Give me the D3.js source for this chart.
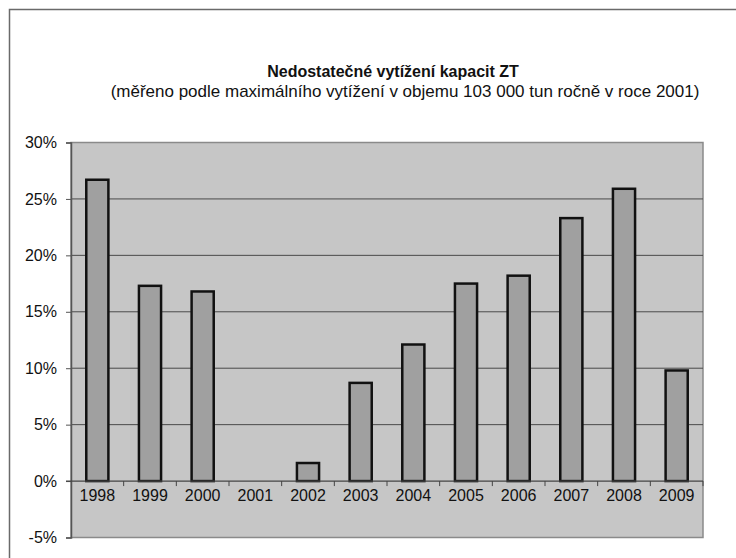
<!DOCTYPE html>
<html>
<head>
<meta charset="utf-8">
<script src="https://cdn.jsdelivr.net/npm/d3@7"></script>
<style>
  body { margin: 0; background: #fff; }
  text { font-family: "Liberation Sans", Arial, sans-serif; fill: #111; }
</style>
</head>
<body>
<svg id="chart" width="736" height="558"></svg>
<script>
const years = ['1998', '1999', '2000', '2001', '2002', '2003', '2004', '2005', '2006', '2007', '2008', '2009']
const values = [0.267, 0.173, 0.168, 0, 0.016, 0.087, 0.121, 0.175, 0.182, 0.233, 0.259, 0.098]
const yTicks = [-0.05, 0, 0.05, 0.1, 0.15, 0.2, 0.25, 0.3]

const svg = d3.select('#chart')

// outer frame (right and bottom are cut off in the picture)
svg.append('path')
  .attr('d', 'M9.5,558 L9.5,9.5 L736,9.5')
  .attr('fill', 'none')
  .attr('stroke', '#6a6a6a')
  .attr('stroke-width', 1.5)

svg.append('text')
  .attr('x', 393).attr('y', 77)
  .attr('text-anchor', 'middle')
  .style('font-size', '16px').style('font-weight', 'bold')
  .text('Nedostatečné vytížení kapacit ZT')
svg.append('text')
  .attr('x', 405).attr('y', 97)
  .attr('text-anchor', 'middle')
  .style('font-size', '17px')
  .text('(měřeno podle maximálního vytížení v objemu 103 000 tun ročně v roce 2001)')

const pl = 71, pr = 703, pt = 142.5, pb = 537.5

const x = d3.scaleBand().domain(years).range([pl, pr]).paddingInner(0.58).paddingOuter(0.29)
const xb = d3.scaleBand().domain(years).range([pl, pr])
const y = d3.scaleLinear().domain([-0.05, 0.3]).range([pb, pt])

// plot background
svg.append('rect')
  .attr('x', pl).attr('y', pt)
  .attr('width', pr - pl).attr('height', pb - pt)
  .attr('fill', '#c6c6c6')
  .attr('stroke', '#8a8a8a')
  .attr('stroke-width', 1.5)

// grid lines
svg.append('g')
  .selectAll('line')
  .data(yTicks.filter(d => d > 0 && d < 0.3))
  .join('line')
  .attr('x1', pl).attr('x2', pr)
  .attr('y1', d => y(d)).attr('y2', d => y(d))
  .attr('stroke', '#4a4a4a')
  .attr('stroke-width', 1)

// y axis
const yAxis = svg.append('g')
  .attr('transform', `translate(${pl},0)`)
  .call(d3.axisLeft(y).tickValues(yTicks).tickFormat(d3.format('.0%')).tickSize(5).tickPadding(9))
yAxis.select('.domain').attr('stroke', '#555').attr('stroke-width', 1.5)
yAxis.selectAll('.tick line').attr('stroke', '#555')
yAxis.selectAll('text').style('font-size', '16px').attr('fill', '#111')
  .text(d => d3.format('.0%')(d).replace('−', '-'))

// bars
svg.append('g')
  .selectAll('rect')
  .data(values)
  .join('rect')
  .attr('x', (d, i) => x(years[i]))
  .attr('width', x.bandwidth())
  .attr('y', d => y(d))
  .attr('height', d => y(0) - y(d))
  .attr('fill', d => d > 0 ? '#a0a0a0' : 'none')
  .attr('stroke', d => d > 0 ? '#111' : 'none')
  .attr('stroke-width', 2.5)

// category axis at zero
const xAxis = svg.append('g')
  .attr('transform', `translate(0,${y(0)})`)
xAxis.append('line')
  .attr('x1', pl - 5).attr('x2', pr)
  .attr('stroke', '#444').attr('stroke-width', 1.2)
xAxis.selectAll('line.tk')
  .data(years.slice(1).concat(['end']))
  .join('line')
  .attr('class', 'tk')
  .attr('x1', d => d === 'end' ? pr : xb(d))
  .attr('x2', d => d === 'end' ? pr : xb(d))
  .attr('y1', 0).attr('y2', 5)
  .attr('stroke', '#444')
xAxis.selectAll('text')
  .data(years)
  .join('text')
  .attr('x', d => xb(d) + xb.bandwidth() / 2)
  .attr('y', 20)
  .attr('text-anchor', 'middle')
  .style('font-size', '16px')
  .text(d => d)
</script>
</body>
</html>
